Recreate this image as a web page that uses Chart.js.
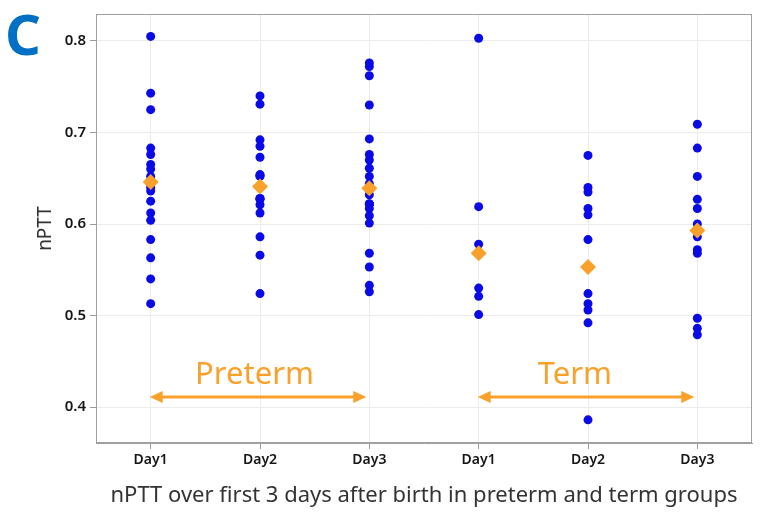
<!DOCTYPE html>
<html>
<head>
<meta charset="utf-8">
<script src="https://cdn.jsdelivr.net/npm/chart.js@4/dist/chart.umd.min.js"></script>
<style>
html,body{margin:0;padding:0;background:#fff;}
#wrap{position:relative;width:769px;height:517px;}
</style>
</head>
<body>
<div id="wrap"><canvas id="c" width="769" height="517"></canvas></div>
<script>
// ---- data ----
const categories = ['Day1', 'Day2', 'Day3', 'Day1', 'Day2', 'Day3'];
const pretermDay1 = [0.805, 0.743, 0.725, 0.683, 0.676, 0.665, 0.660, 0.652, 0.648, 0.644, 0.640, 0.636, 0.625, 0.612, 0.604, 0.583, 0.563, 0.540, 0.513];
const pretermDay2 = [0.740, 0.731, 0.692, 0.685, 0.673, 0.654, 0.653, 0.652, 0.628, 0.628, 0.627, 0.621, 0.612, 0.586, 0.566, 0.524];
const pretermDay3 = [0.776, 0.772, 0.762, 0.730, 0.693, 0.676, 0.670, 0.661, 0.652, 0.644, 0.632, 0.622, 0.622, 0.622, 0.617, 0.609, 0.601, 0.568, 0.553, 0.533, 0.526];
const termDay1 = [0.803, 0.619, 0.578, 0.530, 0.521, 0.501];
const termDay2 = [0.675, 0.640, 0.635, 0.617, 0.610, 0.583, 0.524, 0.513, 0.506, 0.492, 0.386];
const termDay3 = [0.709, 0.683, 0.652, 0.627, 0.617, 0.600, 0.586, 0.572, 0.568, 0.497, 0.486, 0.479];
const meanValues = [0.646, 0.641, 0.639, 0.568, 0.553, 0.593];
const yTicks = [0.4, 0.5, 0.6, 0.7, 0.8];
const groupLabels = ['Preterm', 'Term'];
const groupStart = [0, 3];     // category index where arrow starts
const groupEnd = [2, 5];       // category index where arrow ends
const groupLabelX = [0.95, 3.88];
const arrowValue = 0.411;
const groupLabelValue = 0.435;

const seriesByDay = [pretermDay1, pretermDay2, pretermDay3, termDay1, termDay2, termDay3];
const pointData = [];
seriesByDay.forEach((arr, i) => arr.forEach(v => pointData.push({x: i, y: v})));
const meanData = meanValues.map((v, i) => ({x: i, y: v}));

const BLUE = '#0a0ae6';
const ORANGE = '#f9a12b';
const FONT = "'Noto Sans', 'Open Sans', sans-serif";

const decor = {
  id: 'decor',
  beforeDatasetsDraw(chart) {
    const {ctx, chartArea: a} = chart;
    ctx.save();
    ctx.strokeStyle = '#a0a0a0';
    ctx.lineWidth = 1;
    ctx.strokeRect(a.left + 0.5, a.top + 0.5, a.right - a.left - 1, a.bottom - a.top - 1);
    ctx.restore();
  },
  afterDatasetsDraw(chart) {
    const {ctx, scales: {x, y}} = chart;
    ctx.save();
    ctx.strokeStyle = ORANGE;
    ctx.fillStyle = ORANGE;
    ctx.lineWidth = 3;
    const yy = y.getPixelForValue(arrowValue);
    groupLabels.forEach((lab, i) => {
      const x0 = x.getPixelForValue(groupStart[i]) - 1;
      const x1 = x.getPixelForValue(groupEnd[i]) - 3;
      const hl = 13, hw = 6;
      ctx.beginPath();
      ctx.moveTo(x0 + hl - 2, yy);
      ctx.lineTo(x1 - hl + 2, yy);
      ctx.stroke();
      ctx.beginPath();
      ctx.moveTo(x0, yy); ctx.lineTo(x0 + hl, yy - hw); ctx.lineTo(x0 + hl, yy + hw); ctx.closePath(); ctx.fill();
      ctx.beginPath();
      ctx.moveTo(x1, yy); ctx.lineTo(x1 - hl, yy - hw); ctx.lineTo(x1 - hl, yy + hw); ctx.closePath(); ctx.fill();
      ctx.font = "31px " + FONT;
      ctx.textAlign = 'center';
      ctx.textBaseline = 'middle';
      ctx.fillText(lab, x.getPixelForValue(groupLabelX[i]), y.getPixelForValue(groupLabelValue));
    });
    ctx.restore();
  },
  afterDraw(chart) {
    const ctx = chart.ctx;
    ctx.save();
    ctx.fillStyle = '#0070c4';
    ctx.font = "bold 56px " + FONT;
    ctx.textAlign = 'left';
    ctx.textBaseline = 'alphabetic';
    ctx.fillText('C', 5, 55);
    ctx.restore();
  }
};

new Chart(document.getElementById('c'), {
  type: 'scatter',
  data: {
    datasets: [
      {
        label: 'mean',
        data: meanData,
        pointStyle: 'rectRot',
        pointRadius: 8,
        pointHoverRadius: 8,
        backgroundColor: ORANGE,
        borderColor: ORANGE,
        borderWidth: 0,
        order: 0
      },
      {
        label: 'nPTT',
        data: pointData,
        pointStyle: 'circle',
        pointRadius: 4.5,
        pointHoverRadius: 4.5,
        backgroundColor: BLUE,
        borderColor: BLUE,
        borderWidth: 0,
        order: 1
      }
    ]
  },
  options: {
    responsive: false,
    animation: false,
    events: [],
    layout: {padding: {top: 14, right: 17, left: 0, bottom: 0}},
    plugins: {legend: {display: false}, tooltip: {enabled: false}},
    scales: {
      x: {
        type: 'linear',
        min: -0.5,
        max: 5.5,
        afterBuildTicks: s => { s.ticks = categories.map((c, i) => ({value: i})); },
        afterFit: s => { s.height = 74; },
        grid: {color: '#ececec', tickColor: '#9a9a9a', tickLength: 6, drawTicks: true},
        border: {color: '#a0a0a0'},
        ticks: {
          callback: (v) => categories[v],
          color: '#151515',
          font: {family: FONT, size: 14, weight: '600'},
          padding: 3,
          maxRotation: 0
        },
        title: {
          display: true,
          text: 'nPTT over first 3 days after birth in preterm and term groups',
          color: '#333333',
          font: {family: FONT, size: 22},
          padding: {top: 0, bottom: 8}
        }
      },
      y: {
        type: 'linear',
        min: 0.3607,
        max: 0.8295,
        afterBuildTicks: s => { s.ticks = yTicks.map(v => ({value: v})); },
        afterFit: s => { s.width = 96; },
        grid: {color: '#ececec', tickColor: '#9a9a9a', tickLength: 6, drawTicks: true},
        border: {color: '#a0a0a0'},
        ticks: {
          callback: v => v.toFixed(1),
          color: '#151515',
          font: {family: FONT, size: 15, weight: '600'},
          padding: 4
        },
        title: {
          display: true,
          text: 'nPTT',
          color: '#333333',
          font: {family: FONT, size: 19},
          padding: {top: 34, bottom: 0}
        }
      }
    }
  },
  plugins: [decor]
});
</script>
</body>
</html>
